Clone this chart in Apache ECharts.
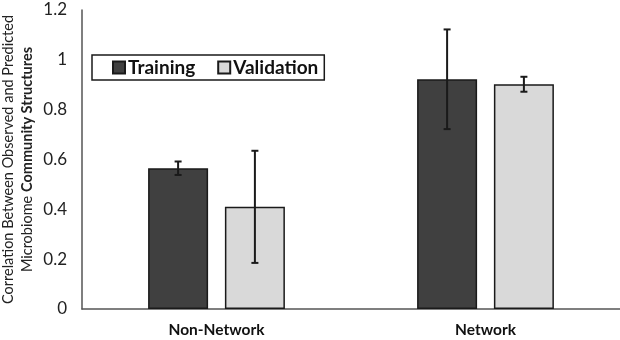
<!DOCTYPE html>
<html>
<head>
<meta charset="utf-8">
<script src="https://cdn.jsdelivr.net/npm/echarts@6/dist/echarts.min.js"></script>
<style>
  html, body { margin: 0; padding: 0; background: #fff; }
  #main { width: 620px; height: 340px; }
</style>
</head>
<body>
<div id="main"></div>
<script>
var categories = ['Non-Network', 'Network']
var trainingValues = [0.565, 0.922]
var trainingErr = [0.027, 0.2]
var validationValues = [0.41, 0.902]
var validationErr = [0.225, 0.03]
var yTicks = { min: 0, max: 1.2, interval: 0.2 }

var barWidth = 60
var barGapPct = 28
var font = 'Lato'

var myChart = echarts.init(document.getElementById('main'))

// error bar drawn at bar centre, shifted left or right of the category centre
var errorBar = function (values, errs, side) {
    return function (params, api) {
        var i = api.value(0)
        var v = values[i]
        var e = errs[i]
        var shift = side * (barWidth + barWidth * barGapPct / 100) / 2
        var hi = api.coord([i, v + e])
        var lo = api.coord([i, v - e])
        var x = hi[0] + shift
        var cap = 3.5
        var st = { stroke: '#1a1a1a', lineWidth: 2 }
        return {
            type: 'group',
            children: [
                { type: 'line', shape: { x1: x, y1: hi[1], x2: x, y2: lo[1] }, style: st },
                { type: 'line', shape: { x1: x - cap, y1: hi[1], x2: x + cap, y2: hi[1] }, style: st },
                { type: 'line', shape: { x1: x - cap, y1: lo[1], x2: x + cap, y2: lo[1] }, style: st }
            ]
        }
    }
}

myChart.setOption({
    animation: false,
    textStyle: { fontFamily: font },
    grid: { left: 82, right: 0, top: 10, bottom: 31, outerBoundsMode: 'none' },
    legend: {
        data: ['Training', 'Validation'],
        left: 92,
        top: 55,
        itemWidth: 12,
        itemHeight: 12,
        itemGap: 22,
        padding: [3, 6, 3, 20],
        borderColor: '#1a1a1a',
        borderWidth: 1.5,
        icon: 'rect',
        textStyle: { fontFamily: font, fontSize: 19, fontWeight: 'bold', color: '#111', padding: [0, 0, 0, -2] }
    },
    xAxis: {
        type: 'category',
        data: categories,
        axisLine: { lineStyle: { color: '#555', width: 1.5 } },
        axisTick: { show: false },
        axisLabel: { fontFamily: font, fontSize: 15.5, fontWeight: 'bold', color: '#111', margin: 13 }
    },
    yAxis: {
        type: 'value',
        min: yTicks.min,
        max: yTicks.max,
        interval: yTicks.interval,
        splitLine: { show: false },
        axisLine: { show: true, lineStyle: { color: '#555', width: 1.5 } },
        axisTick: { show: false },
        axisLabel: { fontFamily: font, fontSize: 17, color: '#222', margin: 15 },
        name: '{n|Correlation Between Observed and Predicted}\n{n|Microbiome }{b|Community Structures}',
        nameLocation: 'middle',
        nameRotate: 90,
        nameGap: 45,
        nameMoveOverlap: false,
        nameTextStyle: {
            lineHeight: 19,
            rich: {
                n: { fontFamily: font, fontSize: 14.5, color: '#222', lineHeight: 19 },
                b: { fontFamily: font, fontSize: 14.5, fontWeight: 'bold', color: '#222', lineHeight: 19 }
            }
        }
    },
    series: [
        {
            name: 'Training',
            type: 'bar',
            barWidth: barWidth,
            barGap: barGapPct + '%',
            data: trainingValues,
            itemStyle: { color: '#404040', borderColor: '#1a1a1a', borderWidth: 1.5 }
        },
        {
            name: 'Validation',
            type: 'bar',
            barWidth: barWidth,
            data: validationValues,
            itemStyle: { color: '#d9d9d9', borderColor: '#1a1a1a', borderWidth: 1.5 }
        },
        {
            type: 'custom',
            renderItem: errorBar(trainingValues, trainingErr, -1),
            data: categories.map(function (c, i) { return [i] }),
            z: 10
        },
        {
            type: 'custom',
            renderItem: errorBar(validationValues, validationErr, 1),
            data: categories.map(function (c, i) { return [i] }),
            z: 10
        }
    ]
})
</script>
</body>
</html>
